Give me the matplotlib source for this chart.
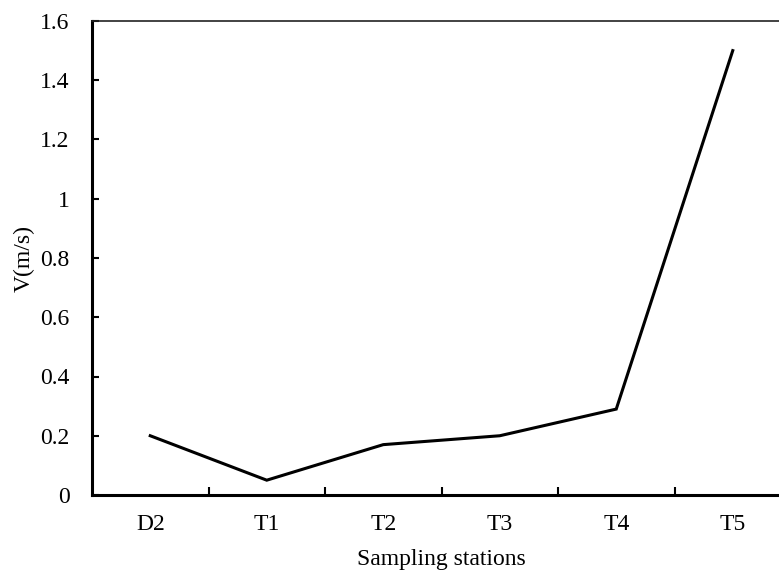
import matplotlib
matplotlib.use("Agg")
import matplotlib.pyplot as plt
from matplotlib.ticker import FixedLocator, MultipleLocator, FuncFormatter

categories = ["D2", "T1", "T2", "T3", "T4", "T5"]
velocity = [0.20, 0.05, 0.17, 0.20, 0.29, 1.50]

plt.rcParams['font.family'] = ['Liberation Serif', 'DejaVu Serif']
plt.rcParams['font.size'] = 17

fig = plt.figure(figsize=(7.79, 5.72), dpi=100)
ax = fig.add_axes([92/779, 77/572, 699/779, 474/572])

x = list(range(len(categories)))
ax.plot(x, velocity, color='black', lw=2.2, solid_joinstyle='miter')

ax.set_xlim(-0.5, len(categories) - 0.5)
ax.set_ylim(0, 1.6)
ax.yaxis.set_major_locator(MultipleLocator(0.2))
ax.yaxis.set_major_formatter(FuncFormatter(lambda v, p: f"{v:.1f}".rstrip('0').rstrip('.') if v != 0 else "0"))

ax.set_xticks(x)
ax.set_xticklabels(categories)
ax.tick_params(axis='x', which='major', length=0, pad=14)
ax.xaxis.set_minor_locator(FixedLocator([i + 0.5 for i in x[:-1]]))
ax.tick_params(axis='x', which='minor', direction='in', length=6, width=1.5)
ax.tick_params(axis='y', direction='in', length=5, width=1.5, pad=16)

ax.spines['right'].set_visible(False)
ax.spines['left'].set_linewidth(2.2)
ax.spines['bottom'].set_linewidth(2.2)
ax.spines['top'].set_linewidth(1.2)
ax.spines['top'].set_color('#222222')

ax.set_xlabel("Sampling stations", labelpad=10)
ax.set_ylabel("V(m/s)", labelpad=4)

fig.savefig("out.png", dpi=100)
